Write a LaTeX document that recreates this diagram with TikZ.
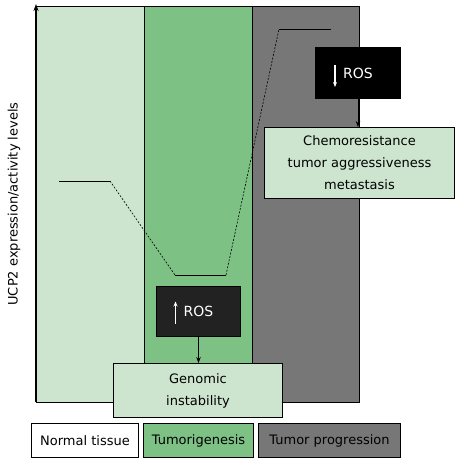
\documentclass[tikz,border=0pt]{standalone}
\usepackage{fontspec}
\setmainfont{DejaVu Sans}
\usetikzlibrary{arrows.meta,calc}
\definecolor{lightg}{HTML}{CDE5CF}
\definecolor{midg}{HTML}{7DC185}
\definecolor{greyc}{HTML}{777777}
\definecolor{darkbox}{HTML}{222222}
\begin{document}
\begin{tikzpicture}[x=1pt,y=-1pt,
  col/.style={draw=black, line width=1pt, anchor=north west, inner sep=0pt, minimum height=396pt},
  outbox/.style={draw=black, line width=1pt, fill=lightg, anchor=north west, inner sep=0pt,
    align=center, font=\fontsize{13}{22}\selectfont},
  rosbox/.style={draw=black, line width=1pt, anchor=north west, inner sep=0pt, text=white,
    font=\fontsize{14}{16}\selectfont},
  leg/.style={draw=black, line width=1pt, anchor=north west, inner sep=0pt, minimum height=34pt,
    font=\fontsize{13}{16}\selectfont},
  conn/.style={line width=0.8pt, -{Stealth[length=6pt,width=4.5pt]}},
  warrow/.style={white, line width=1.1pt, -{Stealth[length=5pt,width=4pt]}},
  curvesolid/.style={line width=0.8pt},
  curvedash/.style={line width=0.6pt, dash pattern=on 2pt off 1.5pt}
]
\useasboundingbox (0,0) rectangle (461,463);
\fill[white] (0,0) rectangle (461,463);

% columns
\node[col, fill=lightg, minimum width=108pt] (normal) at (36,6) {};
\node[col, fill=midg, minimum width=108pt] (tumgen) at (144,6) {};
\node[col, fill=greyc, minimum width=107pt] (tumprog) at (252,6) {};

% UCP2 level curve
\coordinate (p1) at (59,181);
\coordinate (p2) at (110,181);
\coordinate (p3) at (175,275);
\coordinate (p4) at (226,275);
\coordinate (p5) at (279,29);
\coordinate (p6) at (331,29);
\draw[curvesolid] (p1) -- (p2);
\draw[curvedash] (p2) -- (p3);
\draw[curvesolid] (p3) -- (p4);
\draw[curvedash] (p4) -- (p5);
\draw[curvesolid] (p5) -- (p6);

% outcome boxes
\node[outbox, minimum width=169pt, minimum height=54pt] (genomic) at (113,363) {Genomic\\instability};
\node[outbox, minimum width=190pt, minimum height=71pt] (chemo) at (264,127) {Chemoresistance\\tumor aggressiveness\\metastasis};

% ROS boxes
\node[rosbox, fill=darkbox, minimum width=84pt, minimum height=50pt] (rosup) at (156,286) {ROS};
\node[rosbox, fill=black, minimum width=85pt, minimum height=51pt] (rosdown) at (315,47) {ROS};

\draw[warrow] ($(rosup.center)+(-23,12)$) -- ($(rosup.center)+(-23,-10)$);
\draw[warrow] ($(rosdown.center)+(-23,-8)$) -- ($(rosdown.center)+(-23,14)$);

% connectors
\draw[conn] (rosup.south) -- (rosup.south |- genomic.north);
\draw[conn] (rosdown.south) -- (rosdown.south |- chemo.north);

% axis
\coordinate (axbot) at (36,402);
\coordinate (axtop) at (36,4);
\draw[line width=1.6pt, -{Stealth[length=7pt,width=5pt]}] (axbot) -- (axtop);
\node[rotate=90, font=\fontsize{13}{16}\selectfont] (ylab) at (14,204) {UCP2 expression/activity levels};

% legend
\node[leg, fill=white, minimum width=107pt] (lnormal) at (31,423) {Normal tissue};
\node[leg, fill=midg, minimum width=110pt] (ltum) at (143,423) {Tumorigenesis};
\node[leg, fill=greyc, minimum width=142pt] (lprog) at (258,423) {Tumor progression};
\end{tikzpicture}
\end{document}
